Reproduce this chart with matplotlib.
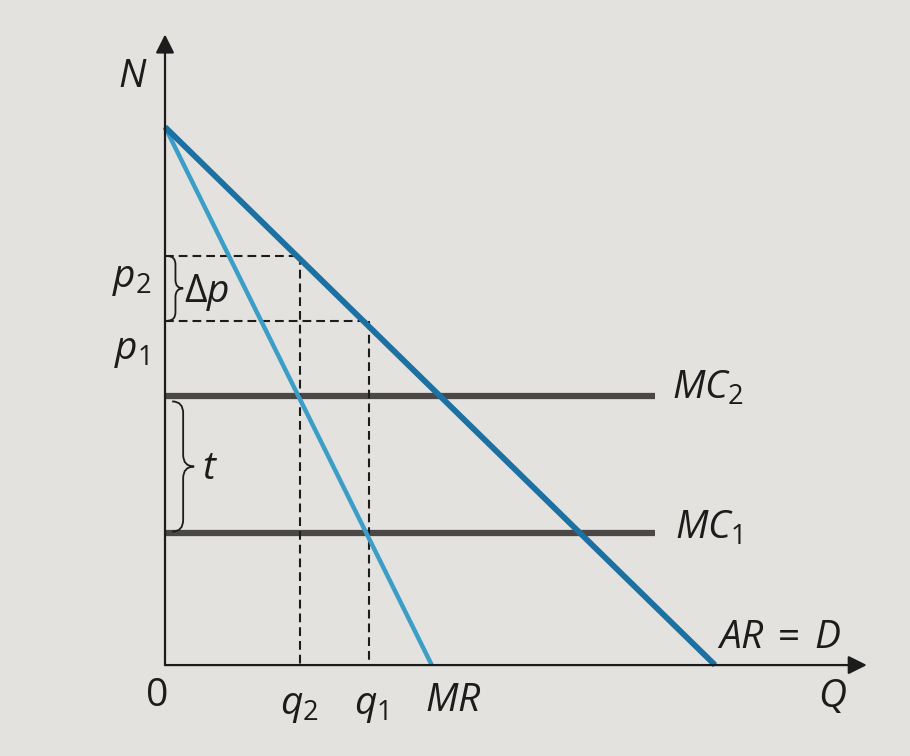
import matplotlib
matplotlib.use("Agg")
import matplotlib.pyplot as plt
from matplotlib.path import Path
from matplotlib.patches import PathPatch

plt.rcParams["mathtext.fontset"] = "custom"
plt.rcParams["mathtext.it"] = "Open Sans:italic"
plt.rcParams["mathtext.rm"] = "Open Sans"
plt.rcParams["mathtext.bf"] = "Open Sans:bold"

# values (price N against quantity Q)
ar_q = [0.0, 10.0]
ar_p = [10.0, 0.0]
mr_q = [0.0, 4.85]
mr_p = [10.0, 0.0]
mc_levels = [2.45, 5.0]          # MC1, MC2
mc_end = 8.9
q_values = [3.7, 2.45]           # q1, q2
p_values = [6.4, 7.6]            # p1, p2

PAPER = "#e3e2df"
INK = "#1c1c1c"
AR_BLUE = "#1c70a2"
MR_BLUE = "#3b9ec6"
MC_GREY = "#4b4746"


def draw_brace(ax, x, y_low, y_high, width, r):
    mid = (y_low + y_high) / 2
    xm = x + width / 2
    verts = [
        (x, y_high), (xm, y_high), (xm, y_high - r),
        (xm, mid + r),
        (xm, mid), (x + width, mid),
        (xm, mid), (xm, mid - r),
        (xm, y_low + r),
        (xm, y_low), (x, y_low),
    ]
    codes = [
        Path.MOVETO, Path.CURVE3, Path.CURVE3,
        Path.LINETO,
        Path.CURVE3, Path.CURVE3,
        Path.CURVE3, Path.CURVE3,
        Path.LINETO,
        Path.CURVE3, Path.CURVE3,
    ]
    ax.add_patch(PathPatch(Path(verts, codes), fill=False, lw=1.3, ec=INK, zorder=4))


fig = plt.figure(figsize=(9.1, 7.56), dpi=100, facecolor=PAPER)
ax = fig.add_axes([0, 0, 1, 1])
ax.set_facecolor(PAPER)
ax.set_xlim(-3.0, 13.545)
ax.set_ylim(-1.69, 12.36)
ax.axis("off")

# axes with arrows
arrow = dict(arrowstyle="-|>", mutation_scale=28, lw=1.6, color=INK, shrinkA=0, shrinkB=0)
ax.annotate("", xy=(0, 11.72), xytext=(0, 0), arrowprops=arrow, zorder=5)
ax.annotate("", xy=(12.76, 0), xytext=(0, 0), arrowprops=arrow, zorder=5)

# marginal cost lines
for level in mc_levels:
    ax.plot([0, mc_end], [level, level], color=MC_GREY, lw=4.5, solid_capstyle="butt", zorder=2)

# dashed guides
dash = dict(color=INK, lw=1.5, linestyle=(0, (4.2, 2.4)), zorder=3)
for q, p in zip(q_values, p_values):
    ax.plot([0, q], [p, p], **dash)
    ax.plot([q, q], [p, 0], **dash)

# revenue lines
ax.plot(mr_q, mr_p, color=MR_BLUE, lw=3.2, solid_capstyle="butt", zorder=4)
ax.plot(ar_q, ar_p, color=AR_BLUE, lw=4.2, solid_capstyle="butt", zorder=4)

# braces
draw_brace(ax, 0.05, p_values[0], p_values[1], 0.28, 0.16)
draw_brace(ax, 0.13, mc_levels[0] + 0.03, mc_levels[1] - 0.1, 0.4, 0.22)

fs = 28
txt = dict(fontsize=fs, color=INK)
ax.text(-0.58, 10.95, "$N$", ha="center", va="center", **txt)
ax.text(12.13, -0.58, "$Q$", ha="center", va="center", **txt)
ax.text(-0.15, -0.58, "0", ha="center", va="center", family="Open Sans", **txt)
ax.text(-0.6, 7.17, "$p_2$", ha="center", va="center", **txt)
ax.text(-0.62, 5.83, "$p_1$", ha="center", va="center", **txt)
ax.text(0.35, 6.93, r"$\Delta p$", ha="left", va="center", **txt)
ax.text(0.82, 3.66, "$t$", ha="center", va="center", **txt)
ax.text(q_values[1], -0.76, "$q_2$", ha="center", va="center", **txt)
ax.text(q_values[0] + 0.05, -0.76, "$q_1$", ha="center", va="center", **txt)
ax.text(5.24, -0.64, "$MR$", ha="center", va="center", **txt)
ax.text(9.22, mc_levels[1] - 0.05, "$MC_2$", ha="left", va="baseline", **txt)
ax.text(9.27, mc_levels[0] - 0.1, "$MC_1$", ha="left", va="baseline", **txt)
ax.text(10.04, 0.32, r"$AR\:=\:D$", ha="left", va="baseline", **txt)

fig.savefig("out.png", dpi=100, facecolor=PAPER)
